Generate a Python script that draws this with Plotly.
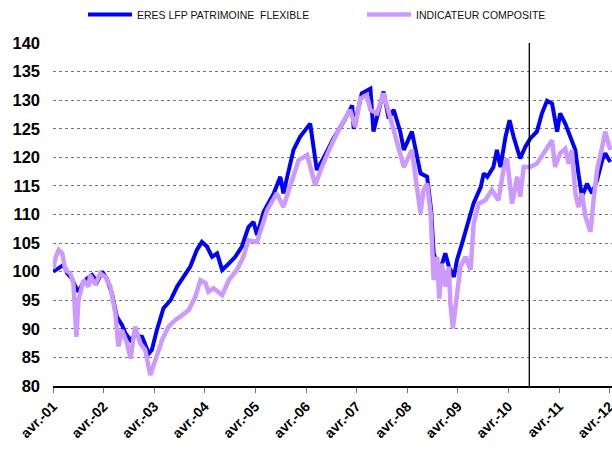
import plotly.graph_objects as go

# ERES LFP PATRIMOINE FLEXIBLE (decimal years, index values)
eres_years = [2001.25, 2001.39, 2001.46, 2001.53, 2001.62, 2001.69, 2001.75, 2001.82, 2001.92,
              2002.02, 2002.12, 2002.22, 2002.31, 2002.41, 2002.51, 2002.61, 2002.68, 2002.78, 2002.87,
              2003.01, 2003.14, 2003.20, 2003.30, 2003.43, 2003.57, 2003.70, 2003.83, 2003.96,
              2004.09, 2004.19, 2004.29, 2004.39, 2004.49, 2004.59, 2004.72, 2004.85, 2004.98,
              2005.11, 2005.21, 2005.28, 2005.41, 2005.61, 2005.74, 2005.80, 2006.00,
              2006.13, 2006.33, 2006.46, 2006.59, 2006.79, 2006.99,
              2007.16, 2007.19, 2007.35, 2007.52, 2007.58, 2007.78, 2007.88, 2007.98,
              2008.11, 2008.18, 2008.34, 2008.51, 2008.64, 2008.72, 2008.77, 2008.84, 2008.90,
              2009.00, 2009.07, 2009.17, 2009.23, 2009.33, 2009.43, 2009.56, 2009.70, 2009.76, 2009.83, 2009.95,
              2010.02, 2010.09, 2010.19, 2010.27, 2010.35, 2010.42, 2010.48, 2010.58, 2010.68, 2010.81, 2010.91,
              2011.01, 2011.11, 2011.21, 2011.27, 2011.37, 2011.47, 2011.57, 2011.63, 2011.70, 2011.80, 2011.90,
              2012.00, 2012.10, 2012.16, 2012.26]
eres_values = [100.0, 100.9, 101.2, 99.7, 98.8, 97.4, 96.5, 97.7, 98.8,
               99.4, 98.2, 100.0, 98.8, 96.2, 92.1, 90.7, 89.2, 88.0, 88.9,
               88.6, 85.7, 86.3, 89.8, 93.6, 95.0, 97.4, 99.1, 100.9,
               103.8, 105.2, 104.4, 102.6, 103.2, 100.3, 101.4, 102.6, 104.4,
               107.8, 108.7, 106.4, 110.5, 113.7, 116.6, 113.7, 121.3,
               123.6, 125.9, 117.8, 119.8, 123.3, 126.2,
               129.1, 125.0, 131.2, 132.0, 124.5, 131.5, 126.8, 128.3,
               124.5, 121.3, 124.5, 117.2, 116.6, 110.8, 103.2, 101.4, 100.3,
               103.2, 100.9, 99.1, 102.0, 104.9, 107.8, 112.0, 114.8, 117.2, 116.6, 118.3,
               121.3, 118.3, 123.6, 126.5, 123.6, 121.3, 119.8, 121.8, 123.3, 124.5, 127.7,
               129.9, 129.4, 124.5, 127.7, 125.9, 123.6, 121.3, 117.2, 113.1, 115.4, 113.7,
               116.0, 119.5, 120.7, 119.2]

# INDICATEUR COMPOSITE
ind_years = [2001.25, 2001.30, 2001.36, 2001.43, 2001.49, 2001.59, 2001.65, 2001.71, 2001.75, 2001.85,
             2001.95, 2001.98, 2002.08, 2002.18, 2002.28, 2002.38, 2002.48, 2002.54, 2002.61, 2002.71,
             2002.78, 2002.87, 2002.97, 2003.07, 2003.17, 2003.26, 2003.40, 2003.53, 2003.66, 2003.80,
             2003.93, 2004.06, 2004.16, 2004.26, 2004.32, 2004.42, 2004.59, 2004.72, 2004.88,
             2005.01, 2005.11, 2005.28, 2005.48, 2005.67, 2005.80, 2006.10, 2006.27, 2006.43, 2006.56,
             2006.73, 2006.92, 2007.12, 2007.22, 2007.32, 2007.45, 2007.52, 2007.65, 2007.78, 2007.91,
             2008.05, 2008.18, 2008.34, 2008.44, 2008.51, 2008.57, 2008.64, 2008.71, 2008.77, 2008.84,
             2008.88, 2008.93, 2009.00, 2009.07, 2009.10, 2009.15, 2009.23, 2009.30, 2009.40, 2009.50,
             2009.56, 2009.66, 2009.79, 2009.92, 2010.05, 2010.15, 2010.22, 2010.32, 2010.42, 2010.48,
             2010.55, 2010.68, 2010.81, 2010.94, 2011.04, 2011.11, 2011.17, 2011.27, 2011.37, 2011.44,
             2011.50, 2011.57, 2011.63, 2011.70, 2011.77, 2011.87, 2011.93, 2012.00, 2012.10, 2012.16, 2012.26]
ind_values = [100.5, 102.5, 103.8, 103.2, 100.3, 99.7, 98.0, 88.6, 95.0, 98.5,
              97.4, 99.4, 97.7, 99.7, 99.1, 97.4, 92.7, 86.9, 89.8, 87.5,
              84.8, 90.4, 87.5, 86.3, 81.9, 84.5, 88.0, 90.4, 91.5, 92.4,
              93.3, 95.6, 98.5, 98.0, 96.5, 97.1, 95.9, 98.5, 100.3,
              102.6, 105.5, 105.2, 110.8, 113.7, 111.3, 119.5, 120.4, 115.1, 118.3,
              121.8, 125.3, 128.3, 125.3, 130.3, 130.9, 128.3, 127.7, 131.2, 127.1,
              122.4, 118.3, 121.3, 114.8, 110.2, 114.3, 115.4, 110.2, 98.5, 102.6,
              95.3, 101.4, 97.4, 100.9, 94.5, 90.1, 95.6, 100.9, 102.6, 100.3,
              108.4, 111.9, 112.5, 114.3, 112.5, 117.8, 119.8, 111.9, 116.6, 113.1,
              118.3, 118.3, 118.9, 120.7, 121.8, 123.0, 118.3, 120.7, 121.5, 118.9,
              121.3, 113.7, 111.3, 113.7, 109.6, 107.0, 112.5, 117.8, 121.8, 124.5, 121.3]

tick_years = [2001.247, 2002.247, 2003.247, 2004.247, 2005.247, 2006.247,
              2007.247, 2008.247, 2009.247, 2010.247, 2011.247, 2012.247]
tick_labels = ["avr.-01", "avr.-02", "avr.-03", "avr.-04", "avr.-05", "avr.-06",
               "avr.-07", "avr.-08", "avr.-09", "avr.-10", "avr.-11", "avr.-12"]
y_ticks = [80, 85, 90, 95, 100, 105, 110, 115, 120, 125, 130, 135, 140]
marker_year = 2010.66

FONT = "Liberation Sans, Arial, sans-serif"

fig = go.Figure()
fig.add_trace(go.Scatter(x=eres_years, y=eres_values, mode="lines",
                         name="ERES LFP PATRIMOINE  FLEXIBLE", legend="legend",
                         line=dict(color="#0000FF", width=4)))
fig.add_trace(go.Scatter(x=ind_years, y=ind_values, mode="lines",
                         name="INDICATEUR COMPOSITE", legend="legend2",
                         line=dict(color="#CC99FF", width=4.5)))

fig.add_shape(type="line", x0=marker_year, x1=marker_year, y0=80, y1=140,
              xref="x", yref="y", line=dict(color="black", width=1.3))

legend_common = dict(orientation="h", xref="container", yref="container",
                     xanchor="left", yanchor="top", itemwidth=44,
                     font=dict(size=10.5, family=FONT, color="#111111"),
                     bgcolor="rgba(0,0,0,0)")

fig.update_layout(
    width=612, height=450,
    margin=dict(l=53, r=0, t=43, b=64),
    paper_bgcolor="white", plot_bgcolor="white",
    font=dict(family=FONT, color="black"),
    showlegend=True,
    legend=dict(x=83 / 612, y=1.0, **legend_common),
    legend2=dict(x=362 / 612, y=1.0, **legend_common),
    xaxis=dict(range=[2001.247, 2001.247 + 559 / 50.6], automargin=False,
               tickmode="array", tickvals=tick_years, ticktext=tick_labels,
               ticklabeloverflow="allow",
               tickangle=-45, tickfont=dict(size=14, family=FONT, color="black", weight="bold"),
               showgrid=False, zeroline=False,
               showline=True, linecolor="black", linewidth=1.5,
               ticks="outside", ticklen=5, tickcolor="#777777", tickwidth=1),
    yaxis=dict(range=[80, 140], tickmode="array", tickvals=y_ticks, automargin=False,
               tickfont=dict(size=16.5, family=FONT, color="black", weight="bold"),
               showgrid=True, gridcolor="#777777", gridwidth=1, griddash="dot",
               zeroline=False, showline=False, ticks="", ticklabelstandoff=12),
)

fig.write_html("out.html", config={"displayModeBar": False},
               post_script="document.body.style.margin='0';document.body.style.overflow='hidden';")
